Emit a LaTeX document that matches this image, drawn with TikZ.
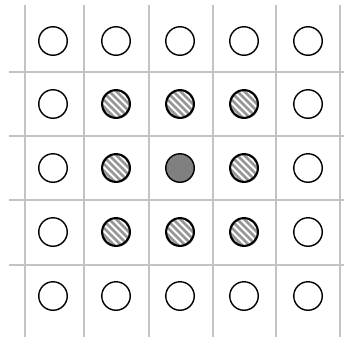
\documentclass[tikz,border=0pt]{standalone}
\usetikzlibrary{shadows}
\definecolor{gridgray}{RGB}{195,195,195}
\definecolor{hatchgray}{RGB}{150,150,150}
\definecolor{centergray}{RGB}{128,128,128}
\begin{document}
\begin{tikzpicture}[x=1pt,y=-1pt,
  gridline/.style={draw=gridgray,line width=2pt},
  dot/.style={circle,draw=black,line width=1.4pt,minimum size=28.5pt,inner sep=0pt,fill=white,
    drop shadow={opacity=0.12,shadow xshift=0.6pt,shadow yshift=-0.9pt}},
  hatchdot/.style={dot},
  centerdot/.style={dot,fill=centergray}]
\useasboundingbox[fill=white] (0,0) rectangle (344,337);
% grid coordinates
\foreach \x [count=\i] in {24.5,84,148.5,213,276,340}{
  \coordinate (vt\i) at (\x,5);
  \coordinate (vb\i) at (\x,337);
  \draw[gridline] (vt\i) -- (vb\i);
}
\foreach \y [count=\j] in {71.5,136,200,265}{
  \coordinate (hl\j) at (9,\y);
  \coordinate (hr\j) at (344,\y);
  \draw[gridline] (hl\j) -- (hr\j);
}
% dots
\foreach \y [count=\r] in {41,104,168,232,296}{
  \foreach \x [count=\c] in {53,116,180,244,308}{
    \pgfmathtruncatemacro{\inner}{(\r>1)&&(\r<5)&&(\c>1)&&(\c<5)}
    \pgfmathtruncatemacro{\mid}{(\r==3)&&(\c==3)}
    \ifnum\mid=1
      \node[centerdot] (d\r\c) at (\x,\y) {};
    \else\ifnum\inner=1
      \node[hatchdot] (d\r\c) at (\x,\y) {};
      \begin{scope}
        \clip (d\r\c.center) circle (13.5pt);
        \foreach \k in {-35,-28,...,35}{
          \draw[hatchgray,line width=2.6pt] ([xshift=\k pt,yshift=20pt]d\r\c.center) -- ([xshift=\k pt+40pt,yshift=-20pt]d\r\c.center);
        }
      \end{scope}
      \draw[black,line width=1.4pt] (d\r\c.center) circle (13.55pt);
    \else
      \node[dot] (d\r\c) at (\x,\y) {};
    \fi\fi
  }
}
\end{tikzpicture}
\end{document}
